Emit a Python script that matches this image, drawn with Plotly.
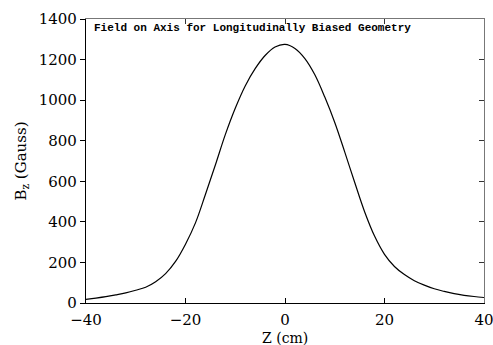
import plotly.graph_objects as go

z_cm = [-40, -38, -36, -34, -32, -30, -28, -26, -24, -22, -20, -18, -16, -14, -12, -10,
        -8, -6, -4, -2, 0, 2, 4, 6, 8, 10, 12, 14, 16, 18, 20, 22, 24, 26, 28, 30,
        32, 34, 36, 38, 40]
bz_gauss = [18, 24, 31, 40, 50, 63, 78, 105, 145, 205, 290, 395, 535, 680, 830, 960,
            1070, 1155, 1220, 1262, 1275, 1255, 1205, 1125, 1015, 890, 745, 595, 450, 330,
            240, 180, 140, 110, 88, 70, 57, 46, 38, 32, 27]

x_ticks = [-40, -20, 0, 20, 40]
y_ticks = [0, 200, 400, 600, 800, 1000, 1200, 1400]

title_text = "Field on Axis for Longitudinally Biased Geometry"
x_title = "Z (cm)"
y_title = "B<sub>z</sub> (Gauss)"

fig = go.Figure()
fig.add_trace(go.Scatter(x=z_cm, y=bz_gauss, mode="lines",
                         line=dict(color="black", width=1.2, shape="spline"),
                         showlegend=False))
# empty trace so the mirrored frame axes are drawn
fig.add_trace(go.Scatter(x=[], y=[], xaxis="x2", yaxis="y2", mode="lines",
                         showlegend=False, hoverinfo="skip"))

font_main = dict(family="DejaVu Serif", size=15, color="black")

fig.update_layout(
    width=493, height=345,
    margin=dict(l=86, r=9, t=19, b=42, autoexpand=False),
    paper_bgcolor="white", plot_bgcolor="white",
    xaxis=dict(range=[-40, 40], tickvals=x_ticks, ticks="inside", ticklen=5,
               tickcolor="black", showline=True, linecolor="black", linewidth=1.3,
               showgrid=False, zeroline=False, tickfont=font_main, automargin=False,
               ticklabelstandoff=3, ticklabeloverflow="allow"),
    yaxis=dict(range=[0, 1400], tickvals=y_ticks, ticks="outside", ticklen=5,
               tickcolor="black", showline=True, linecolor="black", linewidth=1.3,
               showgrid=False, zeroline=False, tickfont=font_main, automargin=False,
               title=dict(text=y_title, font=font_main, standoff=8)),
    xaxis2=dict(overlaying="x", side="top", range=[-40, 40], tickvals=[-20, 0, 20],
                ticks="inside", ticklen=5, tickcolor="#333", showticklabels=False,
                showline=True, linecolor="#777", linewidth=1, showgrid=False,
                zeroline=False, automargin=False),
    yaxis2=dict(overlaying="y", side="right", range=[0, 1400], tickvals=y_ticks[1:-1],
                ticks="inside", ticklen=5, tickcolor="#333", showticklabels=False,
                showline=True, linecolor="#777", linewidth=1, showgrid=False,
                zeroline=False, automargin=False),
    annotations=[
        dict(text="<b>" + title_text + "</b>", xref="paper", yref="paper",
             x=0.015, y=0.968, xanchor="left", yanchor="middle", showarrow=False,
             font=dict(family="Liberation Mono", size=11, color="black")),
        dict(text=x_title, xref="paper", yref="paper", x=0.5, y=-0.122,
             xanchor="center", yanchor="middle", showarrow=False,
             font=dict(family="DejaVu Serif", size=14, color="black")),
    ],
)

fig.write_html("out.html")
